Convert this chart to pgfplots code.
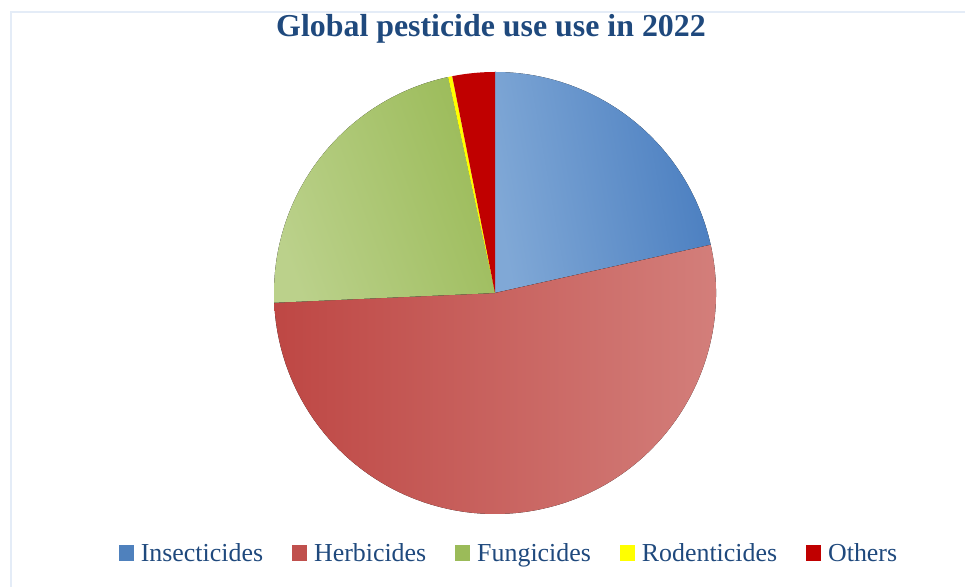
\documentclass[border=0pt]{standalone}
\usepackage{pgfplots}
\pgfplotsset{compat=1.18}
\usepackage{pgfplotstable}
\usepackage{fontspec}
\setmainfont{Liberation Serif}

\definecolor{insL}{HTML}{80A8D6}
\definecolor{insD}{HTML}{4A7EC0}
\definecolor{herD}{HTML}{BE4744}
\definecolor{herL}{HTML}{D4817D}
\definecolor{funL}{HTML}{BBD18B}
\definecolor{funD}{HTML}{9BBB59}
\definecolor{rodY}{HTML}{FFFF00}
\definecolor{othR}{HTML}{C00000}
\definecolor{legIns}{HTML}{4F81BD}
\definecolor{legHer}{HTML}{C0504D}
\definecolor{navy}{HTML}{1F497D}
\definecolor{frame}{HTML}{E4ECF7}

\pgfplotstableread{
name value
Insecticides 21.5
Herbicides 52.8
Fungicides 22.3
Rodenticides 0.3
Others 3.1
}\piedata

\tikzset{
  slice0/.style={left color=insL, middle color=insL, right color=insD, shading angle=100},
  slice1/.style={left color=herD, middle color=herL, right color=herL},
  slice2/.style={left color=funL, middle color=funL, right color=funD, shading angle=110},
  slice3/.style={fill=rodY},
  slice4/.style={fill=othR},
}

\begin{document}
\begin{tikzpicture}[x=1bp,y=1bp]
\useasboundingbox (0,0) rectangle (965,587);
\draw[frame, line width=2bp] (11,0) -- (11,575) -- (965,575);
\begin{axis}[
  at={(0,0)}, anchor=origin,
  x=1bp, y=1bp, xmin=0, xmax=965, ymin=0, ymax=587,
  hide axis, clip=false,
  legend columns=5,
  legend image code/.code={\fill[#1, draw=none] (0bp,-8bp) rectangle (15bp,8bp);},
  legend style={at={(axis cs:509,34)}, anchor=center, draw=none, fill=none,
    font=\fontsize{26}{30}\selectfont\color{navy},
    /tikz/every odd column/.append style={column sep=5bp},
    /tikz/every even column/.append style={column sep=27bp}},
]
\def\angstart{90}
\pgfplotsforeachungrouped \i in {0,...,4} {
  \pgfplotstablegetelem{\i}{value}\of\piedata
  \pgfmathsetmacro\angend{\angstart - 3.6*\pgfplotsretval}
  \edef\temp{\noexpand\fill[slice\i] (axis cs:495,294) -- ++(\angstart:221bp) arc[start angle=\angstart, end angle=\angend, radius=221bp] -- cycle;}
  \temp
  \edef\angstart{\angend}
}
\addlegendimage{fill=legIns}\addlegendentry{Insecticides}
\addlegendimage{fill=legHer}\addlegendentry{Herbicides}
\addlegendimage{fill=funD}\addlegendentry{Fungicides}
\addlegendimage{fill=rodY}\addlegendentry{Rodenticides}
\addlegendimage{fill=othR}\addlegendentry{Others}
\end{axis}
\node[text=navy, font=\fontsize{32}{36}\selectfont\bfseries] at (491,558) {Global pesticide use use in 2022};
\end{tikzpicture}
\end{document}
